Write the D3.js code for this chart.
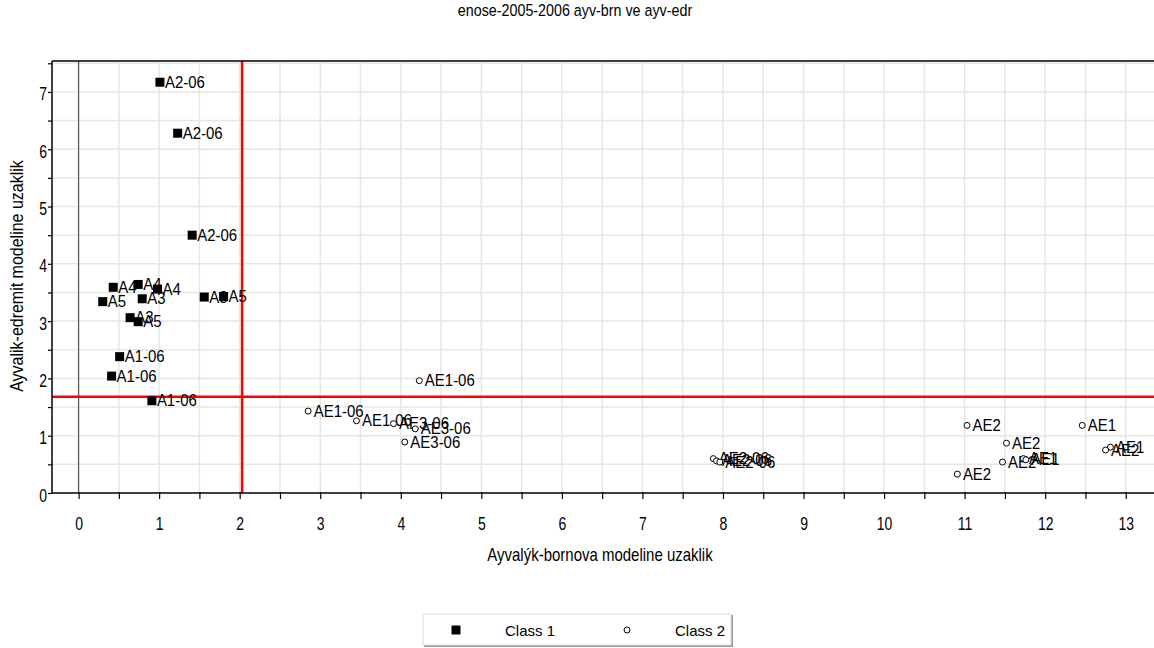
<!DOCTYPE html>
<html>
<head>
<meta charset="utf-8">
<script src="https://cdn.jsdelivr.net/npm/d3@7"></script>
<style>
body { margin: 0; background: #fff; overflow: hidden; }
text { font-family: "Liberation Sans", Arial, sans-serif; fill: #000; }
</style>
</head>
<body>
<div id="entry"></div>
<script>
// class 1 points (squares)
var class1Labels = ['A2-06', 'A2-06', 'A2-06', 'A4', 'A4', 'A4', 'A3', 'A3', 'A3', 'A5', 'A5', 'A5', 'A1-06', 'A1-06', 'A1-06'];
var class1X = [1.01, 1.23, 1.41, 0.43, 0.74, 0.98, 0.79, 0.64, 1.56, 0.30, 0.74, 1.80, 0.51, 0.41, 0.91];
var class1Y = [7.17, 6.28, 4.50, 3.59, 3.64, 3.56, 3.39, 3.06, 3.42, 3.34, 2.99, 3.43, 2.38, 2.04, 1.61];

// class 2 points (open circles)
var class2Labels = ['AE1-06', 'AE1-06', 'AE1-06', 'AE3-06', 'AE3-06', 'AE3-06', 'AE2-06', 'AE2-06', 'AE2-06',
  'AE2', 'AE2', 'AE2', 'AE2', 'AE1', 'AE1', 'AE1', 'AE1', 'AE2'];
var class2X = [4.23, 2.85, 3.45, 3.91, 4.18, 4.05, 7.88, 7.92, 7.96, 11.03, 11.52, 11.47, 10.91, 12.46, 11.73, 11.76, 12.81, 12.75];
var class2Y = [1.96, 1.43, 1.26, 1.21, 1.12, 0.89, 0.60, 0.56, 0.54, 1.18, 0.87, 0.54, 0.33, 1.18, 0.60, 0.58, 0.80, 0.75];

var xTicks = d3.range(0, 13.51, 0.5);
var yTicks = d3.range(0, 7.51, 0.5);
var refX = 2.03, refY = 1.68;

var titleText = 'enose-2005-2006 ayv-brn ve ayv-edr';
var xTitle = 'Ayvalýk-bornova modeline uzaklik';
var yTitle = 'Ayvalik-edremit modeline uzaklik';
var legendNames = ['Class 1', 'Class 2'];

var W = 1154, H = 648;
var pLeft = 52, pRight = 1166, pTop = 61, pBottom = 493;

var x = d3.scaleLinear().domain([-0.33, 13.5]).range([pLeft, pRight]);
var y = d3.scaleLinear().domain([0, 7.54]).range([pBottom, pTop]);

var svg = d3.select('#entry').append('svg')
  .attr('width', W)
  .attr('height', H);

// grid
svg.append('g').selectAll('line').data(xTicks).enter().append('line')
  .attr('x1', d => x(d)).attr('x2', d => x(d))
  .attr('y1', pTop).attr('y2', pBottom)
  .attr('stroke', '#e6e6e6').attr('stroke-width', 1.5);
svg.append('g').selectAll('line').data(yTicks.filter(d => d > 0)).enter().append('line')
  .attr('x1', pLeft).attr('x2', W)
  .attr('y1', d => y(d)).attr('y2', d => y(d))
  .attr('stroke', '#e6e6e6').attr('stroke-width', 1.5);

// zero line
svg.append('line')
  .attr('x1', x(0)).attr('x2', x(0)).attr('y1', pTop).attr('y2', pBottom)
  .attr('stroke', '#555').attr('stroke-width', 1.2);

// reference lines
svg.append('line')
  .attr('x1', x(refX)).attr('x2', x(refX)).attr('y1', pTop).attr('y2', pBottom)
  .attr('stroke', '#ff0000').attr('stroke-width', 2.5);
svg.append('line')
  .attr('x1', pLeft).attr('x2', W).attr('y1', y(refY)).attr('y2', y(refY))
  .attr('stroke', '#ff0000').attr('stroke-width', 2.5);

// top border
svg.append('line')
  .attr('x1', pLeft).attr('x2', W).attr('y1', pTop).attr('y2', pTop)
  .attr('stroke', '#000').attr('stroke-width', 1.5);

// axes
var xAxis = d3.axisBottom(x).tickValues(xTicks).tickSize(6)
  .tickFormat(d => d % 1 === 0 ? d : '');
var gx = svg.append('g')
  .attr('transform', 'translate(0,' + pBottom + ')')
  .call(xAxis);
gx.select('.domain').attr('d', 'M' + pLeft + ',0H' + W).attr('stroke-width', 1.5);
gx.selectAll('.tick line').attr('y1', -1).attr('stroke-width', 1.2);
gx.selectAll('.tick text')
  .attr('y', 0).attr('dy', 0)
  .attr('transform', 'translate(0,37) scale(1,1.3)')
  .style('font-size', '14px');

var yAxis = d3.axisLeft(y).tickValues(yTicks).tickSize(4)
  .tickFormat(d => d % 1 === 0 ? d : '');
var gy = svg.append('g')
  .attr('transform', 'translate(' + pLeft + ',0)')
  .call(yAxis);
gy.select('.domain').attr('d', 'M0,' + pTop + 'V' + pBottom).attr('stroke-width', 1.5);
gy.selectAll('.tick line').attr('stroke-width', 1.2);
gy.selectAll('.tick text')
  .attr('x', 0).attr('dy', 0)
  .attr('transform', 'translate(-5,8) scale(1,1.3)')
  .style('font-size', '14px');
svg.selectAll('.tick text').style('font-family', '"Liberation Sans", Arial, sans-serif').attr('fill', '#000');

// class 1 squares
var c1 = svg.append('g').selectAll('g').data(class1X).enter().append('g');
c1.append('rect')
  .attr('x', (d, i) => x(class1X[i]) - 4.5)
  .attr('y', (d, i) => y(class1Y[i]) - 4.5)
  .attr('width', 9).attr('height', 9)
  .attr('fill', '#000');
c1.append('text')
  .attr('transform', (d, i) => 'translate(' + (x(class1X[i]) + 5) + ',' + (y(class1Y[i]) + 5.5) + ') scale(1,1.1)')
  .style('font-size', '15px')
  .text((d, i) => class1Labels[i]);

// class 2 circles
var c2 = svg.append('g').selectAll('g').data(class2X).enter().append('g');
c2.append('circle')
  .attr('cx', (d, i) => x(class2X[i]))
  .attr('cy', (d, i) => y(class2Y[i]))
  .attr('r', 3)
  .attr('fill', '#fff').attr('stroke', '#000').attr('stroke-width', 1);
c2.append('text')
  .attr('transform', (d, i) => 'translate(' + (x(class2X[i]) + 5.5) + ',' + (y(class2Y[i]) + 5.5) + ') scale(1,1.1)')
  .style('font-size', '15px')
  .text((d, i) => class2Labels[i]);

// titles
svg.append('text')
  .attr('transform', 'translate(575,16) scale(1,1.2)')
  .attr('text-anchor', 'middle')
  .style('font-size', '14.3px')
  .text(titleText);
svg.append('text')
  .attr('transform', 'translate(600,561) scale(1,1.2)')
  .attr('text-anchor', 'middle')
  .style('font-size', '15px')
  .text(xTitle);
svg.append('text')
  .attr('transform', 'translate(23,276) rotate(-90) scale(1,1.2)')
  .attr('text-anchor', 'middle')
  .style('font-size', '16px')
  .text(yTitle);

// legend
var lg = svg.append('g').attr('transform', 'translate(423,614)');
lg.append('rect').attr('x', 1).attr('y', 1).attr('width', 309).attr('height', 32).attr('fill', '#999');
lg.append('rect').attr('x', 0).attr('y', 0).attr('width', 308).attr('height', 31)
  .attr('fill', '#fff').attr('stroke', '#ddd').attr('stroke-width', 1);
lg.append('rect').attr('x', 28.5).attr('y', 11.5).attr('width', 9).attr('height', 9).attr('fill', '#000');
lg.append('circle').attr('cx', 204).attr('cy', 16).attr('r', 3)
  .attr('fill', '#fff').attr('stroke', '#000');
lg.selectAll('text.lg').data(legendNames).enter().append('text')
  .attr('class', 'lg')
  .attr('x', (d, i) => i === 0 ? 82 : 252)
  .attr('y', 22)
  .style('font-size', '15px')
  .text(d => d);
</script>
</body>
</html>
